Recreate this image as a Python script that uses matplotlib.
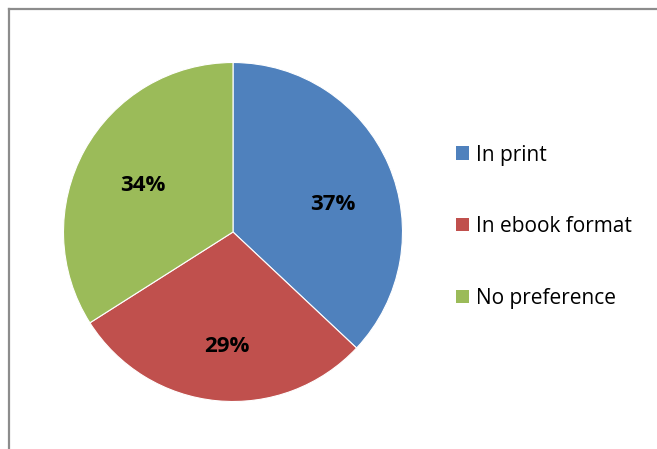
import matplotlib
matplotlib.use("Agg")
import matplotlib.pyplot as plt
from matplotlib.patches import Rectangle
from matplotlib.lines import Line2D

categories = ["In print", "In ebook format", "No preference"]
shares = [37, 29, 34]
colors = ["#4F81BD", "#C0504D", "#9BBB59"]

W, H = 657, 449
fig = plt.figure(figsize=(W / 100, H / 100), dpi=100)
fig.patch.set_facecolor("white")

# chart frame: only the left and top edges fall inside the image
fig.add_artist(Line2D([8.5 / W, 8.5 / W], [0, 1 - 8.5 / H], transform=fig.transFigure,
                      color="#8c8c8c", lw=1.6))
fig.add_artist(Line2D([8.5 / W, 1], [1 - 8.5 / H, 1 - 8.5 / H], transform=fig.transFigure,
                      color="#8c8c8c", lw=1.6))

cx, cy, r = 233, 232, 169.5
ax = fig.add_axes([(cx - r) / W, (H - cy - r) / H, 2 * r / W, 2 * r / H])
wedges, texts, autotexts = ax.pie(
    shares, colors=colors, startangle=90, counterclock=False,
    autopct=lambda p: f"{p:.0f}%", pctdistance=0.63,
    wedgeprops=dict(edgecolor="white", linewidth=0.8),
    textprops=dict(fontsize=16, fontweight="bold", family="Open Sans", color="black"),
)
# data-label placement inside each slice (radius fraction units)
label_pos = [(0.59, 0.16), (-0.035, -0.673), (-0.531, 0.277)]
for t, p in zip(autotexts, label_pos):
    t.set_position(p)
ax.set_aspect("equal")
ax.set_xlim(-1, 1)
ax.set_ylim(-1, 1)
ax.axis("off")

# legend: colour key plus category name
leg_x, leg_y0, leg_dy, box = 456, 153, 71.5, 13
for i, (name, c) in enumerate(zip(categories, colors)):
    y = leg_y0 + i * leg_dy
    fig.add_artist(Rectangle((leg_x / W, (H - y - box / 2) / H), box / W, box / H,
                             transform=fig.transFigure, facecolor=c, edgecolor="none"))
    fig.text(476 / W, (H - y) / H, name, family="Open Sans", fontsize=15,
             va="center_baseline", ha="left")

fig.savefig("out.png", dpi=100, facecolor="white")
